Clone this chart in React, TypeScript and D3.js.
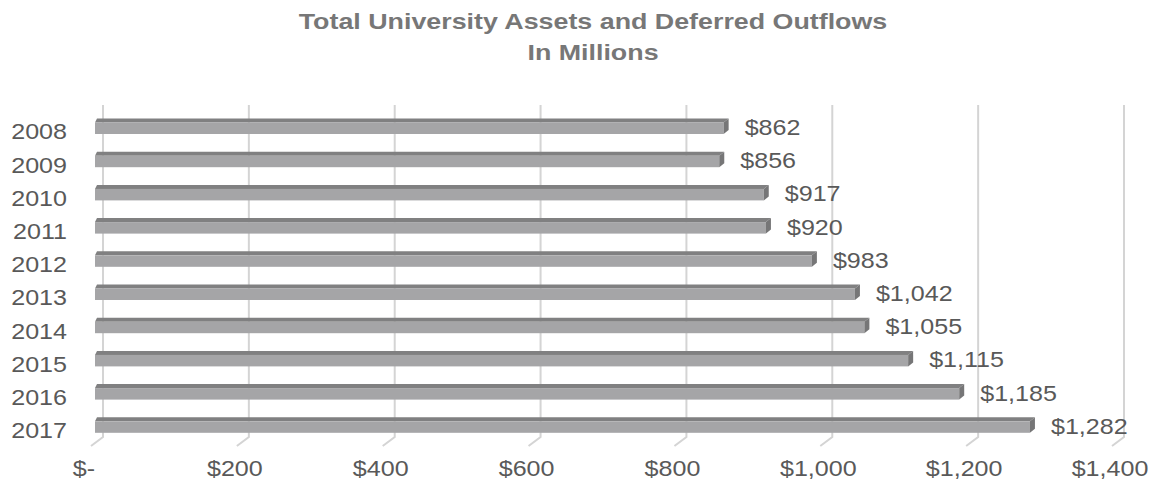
import React, { useEffect, useRef } from 'react';
import * as d3 from 'd3';

// Fiscal years and total assets + deferred outflows ($ millions)
const years = ['2008', '2009', '2010', '2011', '2012', '2013', '2014', '2015', '2016', '2017'];
const values = [862, 856, 917, 920, 983, 1042, 1055, 1115, 1185, 1282];
const ticks = [0, 200, 400, 600, 800, 1000, 1200, 1400];
const tickLabels = ['$-', '$200', '$400', '$600', '$800', '$1,000', '$1,200', '$1,400'];

const App = () => {
    const svgRef = useRef<SVGSVGElement>(null);

    useEffect(() => {
        const width = 1154;
        const height = 490;
        const font = 'Liberation Sans, Arial, sans-serif';

        const svg = d3.select(svgRef.current)
            .attr('width', width)
            .attr('height', height);
        svg.selectAll('*').remove();

        const x = d3.scaleLinear().domain([0, 1400]).range([0, 1021]);
        const y = d3.scaleBand().domain(years).range([105, 437]);

        const wallX = 103;   // back wall origin
        const barX = 95;     // bar front origin
        const depth = { dx: 5, dy: 4 };

        // helper for the horizontally stretched text (original is a bit wide)
        const addText = (g, tx, ty, txt, size, anchor, color, weight = 'normal', stretch = 1.14) => {
            g.append('g')
                .attr('transform', `translate(${tx},${ty}) scale(${stretch},1)`)
                .append('text')
                .attr('text-anchor', anchor)
                .attr('dominant-baseline', 'central')
                .style('font-family', font)
                .style('font-size', `${size}px`)
                .style('font-weight', weight)
                .attr('fill', color)
                .text(txt);
        };

        // Title
        addText(svg, width / 2 + 16, 21, 'Total University Assets and Deferred Outflows', 22, 'middle', '#777777', 'bold', 1.22);
        addText(svg, width / 2 + 16, 52, 'In Millions', 22, 'middle', '#777777', 'bold', 1.22);

        // Gridlines on back wall + floor edge
        const grid = svg.append('g');
        ticks.forEach(t => {
            const bx = wallX + x(t);
            grid.append('path')
                .attr('d', `M${bx},${y.range()[0]}V${y.range()[1]}L${bx - 12},${y.range()[1] + 9}`)
                .attr('fill', 'none')
                .attr('stroke', '#d4d4d4')
                .attr('stroke-width', 2);
        });

        // Tick labels
        ticks.forEach((t, i) => {
            addText(svg, wallX + x(t) - 14 - (t === 0 ? 5 : 0), 469, tickLabels[i], 22, 'middle', '#595959');
        });

        // Bars (3D-ish: front, top, side faces)
        const bars = svg.append('g');
        years.forEach((yr, i) => {
            const v = values[i];
            const y0 = y(yr) + 17.5;
            const h = 11.5;
            const x1 = barX + x(v);
            const { dx, dy } = depth;

            bars.append('polygon')
                .attr('points', `${barX},${y0} ${x1},${y0} ${x1 + dx},${y0 - dy} ${barX + 2},${y0 - dy}`)
                .attr('fill', '#808081');
            bars.append('rect')
                .attr('x', barX)
                .attr('y', y0)
                .attr('width', x1 - barX)
                .attr('height', h)
                .attr('fill', '#a5a5a7');
            bars.append('polygon')
                .attr('points', `${x1},${y0} ${x1 + dx},${y0 - dy} ${x1 + dx},${y0 + h - dy} ${x1},${y0 + h}`)
                .attr('fill', '#767677');

            // value label
            addText(svg, x1 + dx + 16, y0 + 5, d3.format('$,')(v), 22, 'start', '#595959');

            // category label
            addText(svg, 67, y(yr) + 27, yr, 22, 'end', '#595959');
        });
    }, []);

    return (
        <div>
            <svg ref={svgRef} style={{ position: 'absolute', left: 0, top: 0 }}></svg>
        </div>
    );
};

export default App;
